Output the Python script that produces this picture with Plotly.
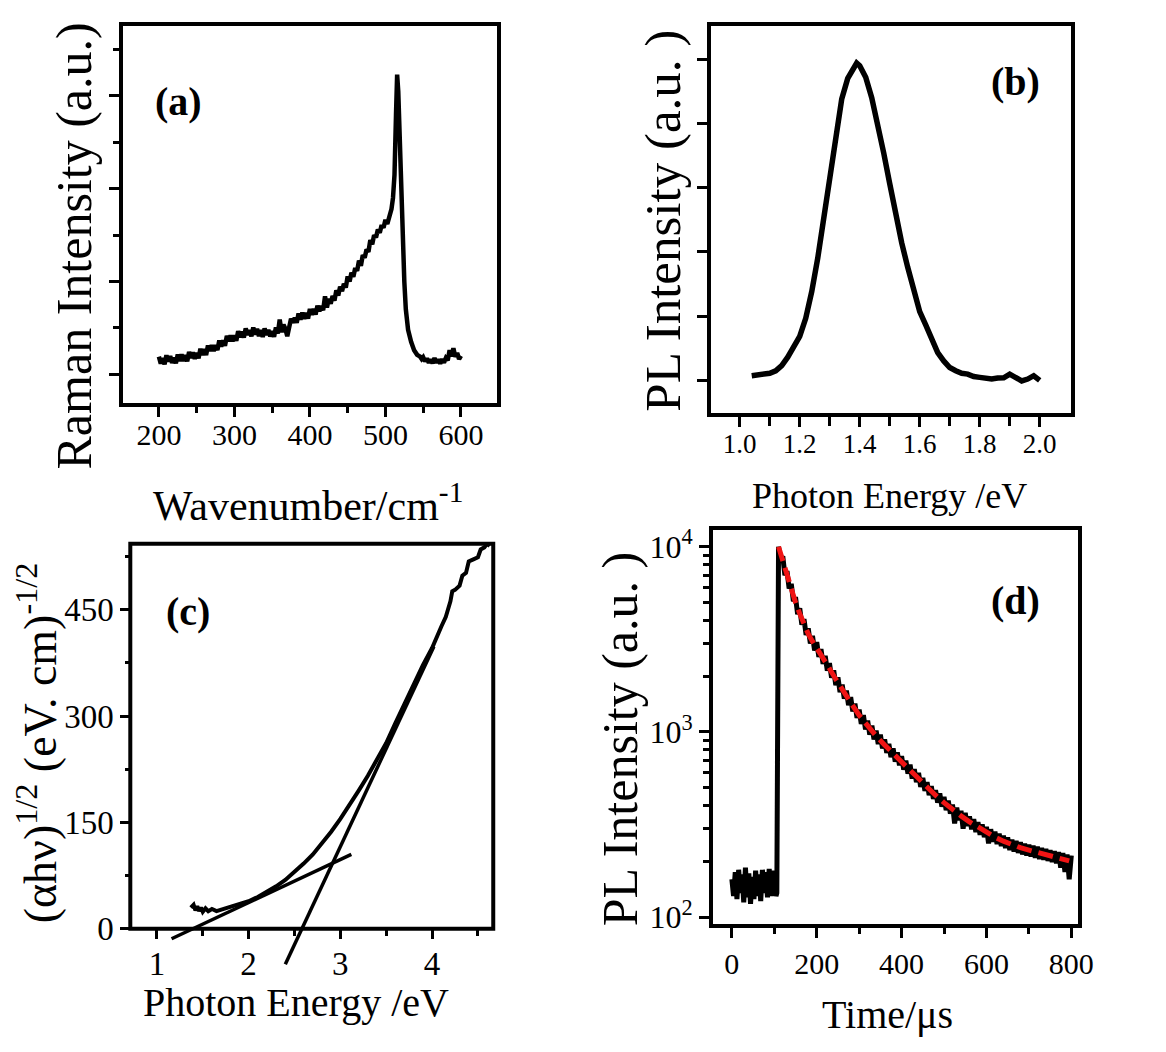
import plotly.graph_objects as go

W, H = 1166, 1052
FONT = "Liberation Serif"

# ---------------- data ----------------
# (a) Raman
raman_x = [200, 202.5, 205, 207.5, 210, 212.5, 215, 217.5, 220, 222.5,
           225, 227.5, 230, 232.5, 235, 237.5, 240, 242.5, 245, 247.5,
           250, 252.5, 255, 257.5, 260, 262.5, 265, 267.5, 270, 272.5,
           275, 277.5, 280, 282.5, 285, 287.5, 290, 292.5, 295, 297.5,
           300, 302.5, 305, 307.5, 310, 312.5, 315, 317.5, 320, 322.5,
           325, 327.5, 330, 332.5, 335, 337.5, 340, 342.5, 345, 347.5,
           350, 352.5, 355, 357.5, 360, 362.5, 365, 367.5, 370, 372.5,
           375, 377.5, 380, 382.5, 385, 387.5, 390, 392.5, 395, 397.5,
           400, 402.5, 405, 407.5, 410, 412.5, 415, 417.5, 420, 422.5,
           425, 427.5, 430, 432.5, 435, 437.5, 440, 442.5, 445, 447.5,
           450, 452.5, 455, 457.5, 460, 462.5, 465, 467.5, 470, 472.5,
           475, 477.5, 480, 482.5, 485, 487.5, 490, 492.5, 495, 497.5,
           500, 502.5, 505,
           508, 510, 512, 514, 515.5, 517, 519, 521, 523, 525, 527, 530, 534, 538, 542, 546,
           548, 550, 552.5, 555, 557.5, 560, 562.5, 565, 567.5, 570, 572.5, 575, 577.5,
           580, 582.5, 585, 587.5, 590, 592.5, 595, 597.5, 600]
raman_y = [190, 115, 175, 107, 205, 138, 195, 122, 180, 118,
           215, 142, 215, 143, 205, 140, 240, 175, 235, 168,
           230, 172, 275, 208, 270, 207, 310, 250, 315, 250,
           315, 260, 365, 300, 365, 307, 415, 355, 420, 355,
           420, 362, 465, 398, 460, 397, 495, 425, 475, 410,
           505, 428, 490, 412, 475, 403, 495, 425, 480, 408,
           465, 405, 505, 440, 590, 455, 535, 490, 410, 520,
           600, 555, 610, 555, 655, 590, 665, 598, 660, 602,
           705, 640, 705, 645, 740, 680, 735, 690, 840, 720,
           815, 760, 845, 795, 905, 850, 945, 895, 975, 935,
           1055, 1000, 1095, 1050, 1145, 1115, 1225, 1170, 1285, 1255,
           1345, 1320, 1445, 1400, 1500, 1475, 1560, 1525, 1610, 1580,
           1665, 1620, 1700,
           1780, 1900, 2150, 2800, 3230, 3050, 2500, 1900, 1400, 1000, 700, 480, 350, 260, 210, 190,
           165, 185, 140, 170, 125, 160, 120, 175, 125, 160, 115, 165, 125,
           175, 150, 260, 195, 280, 190, 230, 165, 200]

# (b) PL spectrum
pl_x = [1.04, 1.06, 1.08, 1.10, 1.12, 1.14, 1.16, 1.18, 1.20, 1.22,
        1.24, 1.26, 1.28, 1.30, 1.32, 1.34, 1.36, 1.38, 1.39, 1.40,
        1.42, 1.44, 1.46, 1.48, 1.50, 1.52, 1.54, 1.56, 1.58, 1.60,
        1.62, 1.64, 1.66, 1.68, 1.70, 1.72, 1.74, 1.76, 1.78, 1.80,
        1.82, 1.84, 1.86, 1.88, 1.90, 1.92, 1.94, 1.96, 1.98, 2.00]
pl_y = [72, 80, 87, 110, 148, 230, 360, 506, 685, 966,
        1380, 1900, 2550, 3164, 3880, 4380, 4700, 4880, 4940, 4900,
        4720, 4400, 4010, 3540, 3063, 2550, 2140, 1760, 1376, 1069,
        863, 620, 430, 302, 199, 150, 110, 97, 60, 46,
        30, 20, 35, 40, 97, 46, -10, 20, 72, 0]

# (c) Tauc plot
tauc_x = [1.37, 1.40, 1.42, 1.44, 1.46, 1.48, 1.50, 1.53, 1.56, 1.60,
          1.65, 1.70, 1.80, 1.90, 2.00, 2.10, 2.20, 2.30, 2.40, 2.50,
          2.60, 2.70, 2.80, 2.90, 3.00, 3.10, 3.20, 3.30, 3.40, 3.50,
          3.60, 3.70, 3.80, 3.90, 4.00, 4.05, 4.10, 4.15, 4.18, 4.20,
          4.22, 4.25, 4.30, 4.33, 4.37, 4.40, 4.45, 4.50, 4.53, 4.57,
          4.60, 4.63]
tauc_y = [30, 34, 26, 32, 25, 30, 24, 29, 25, 28,
          25, 27, 30, 34, 39, 45, 52, 60, 69, 80,
          92, 105, 120, 137, 155, 174, 195, 216, 238, 262,
          290, 318, 345, 372, 396, 412, 426, 440, 452, 462,
          476, 478, 484, 498, 502, 518, 521, 524, 535, 538,
          543, 540]
fit1_x = [1.16, 3.12]
fit1_y = [-14, 105]
fit2_x = [2.40, 4.02]
fit2_y = [-50, 398]

# (d) PL decay
decay_t = [0, 4, 8, 12, 16, 20, 24, 28, 32, 36, 40, 44, 48, 52, 56, 60, 64, 68, 72, 76,
           80, 84, 88, 92, 96, 100, 104, 106, 108,
           110, 115, 120, 125, 130, 135, 140, 145, 150, 155, 160, 165, 170, 175, 180, 185,
           190, 195, 200, 205, 210, 215, 220, 225, 230, 235, 240, 245, 250, 255, 260, 265,
           270, 275, 280, 285, 290, 295, 300, 305, 310, 315, 320, 325, 330, 335, 340, 345,
           350, 355, 360, 365, 370, 375, 380, 385, 390, 395, 400, 405, 410, 415, 420, 425,
           430, 435, 440, 445, 450, 455, 460, 465, 470, 475, 480, 485, 490, 495, 500, 505,
           510, 515, 520, 525, 530, 535, 540, 545, 550, 555, 560, 565, 570, 575, 580, 585,
           590, 595, 600, 605, 610, 615, 620, 625, 630, 635, 640, 645, 650, 655, 660, 665,
           670, 675, 680, 685, 690, 695, 700, 705, 710, 715, 720, 725, 730, 735, 740, 745,
           750, 755, 760, 765, 770, 775, 780, 785, 790, 795, 800]
decay_i = [160, 130, 175, 125, 180, 135, 170, 120, 185, 128, 172, 118, 165, 125, 178, 130, 170, 122, 180, 135,
           175, 128, 182, 130, 178, 140, 130, 135, 9800,
           10000, 8460, 8880, 7020, 7380, 5950, 6310, 5070, 5350, 4320, 4650, 3790, 4070, 3340, 3620, 3000,
           3300, 2750, 3050, 2540, 2800, 2330, 2570, 2140, 2350, 1960, 2150, 1790, 1970, 1640, 1800, 1510,
           1670, 1395, 1540, 1290, 1420, 1190, 1320, 1105, 1230, 1030, 1150, 965, 1080, 910, 1015, 860,
           965, 815, 910, 770, 860, 730, 815, 690, 775, 660, 740, 625, 700, 595, 665, 560,
           630, 535, 600, 505, 565, 480, 535, 455, 510, 435, 485, 415, 465, 395, 445, 378,
           425, 362, 405, 320, 390, 333, 375, 300, 365, 310, 350, 298, 338, 288, 326, 278,
           317, 270, 307, 250, 298, 255, 289, 248, 282, 242, 275, 236, 269, 230, 262, 226,
           258, 222, 254, 218, 249, 215, 246, 212, 243, 209, 240, 206, 236, 204, 233, 201,
           230, 198, 227, 195, 224, 185, 222, 175, 218, 160, 215]
fit_t = [110, 120, 130, 140, 150, 160, 170, 180, 190, 200, 215, 230, 245, 260, 280, 300,
         320, 340, 360, 380, 400, 420, 440, 460, 480, 500, 520, 540, 560, 580, 600, 620,
         640, 660, 680, 700, 720, 740, 760, 780, 795]
fit_i = [10000, 8300, 6900, 5900, 5000, 4350, 3800, 3380, 3080, 2850, 2510, 2200, 1925, 1680, 1440, 1230,
         1075, 950, 850, 760, 690, 620, 560, 500, 455, 415, 380, 352, 327, 305, 287, 270,
         257, 245, 237, 230, 224, 218, 212, 206, 201]


def fx(p):
    return p / W


def fy(p):
    return 1 - p / H


def axis(size, **kw):
    d = dict(showline=True, linecolor="black", linewidth=4, mirror=True,
             ticks="outside", tickcolor="black", tickwidth=3, ticklen=10,
             showgrid=False, zeroline=False,
             tickfont=dict(family=FONT, size=size, color="black"))
    d.update(kw)
    return d


fig = go.Figure()
fig.add_trace(go.Scatter(x=raman_x, y=raman_y, mode="lines", line=dict(color="black", width=4.5),
                         xaxis="x", yaxis="y"))
fig.add_trace(go.Scatter(x=pl_x, y=pl_y, mode="lines", line=dict(color="black", width=5.5), xaxis="x2", yaxis="y2"))
fig.add_trace(go.Scatter(x=tauc_x, y=tauc_y, mode="lines", line=dict(color="black", width=4), xaxis="x3", yaxis="y3"))
fig.add_trace(go.Scatter(x=fit1_x, y=fit1_y, mode="lines", line=dict(color="black", width=3.5), xaxis="x3", yaxis="y3"))
fig.add_trace(go.Scatter(x=fit2_x, y=fit2_y, mode="lines", line=dict(color="black", width=3.5), xaxis="x3", yaxis="y3"))
fig.add_trace(go.Scatter(x=decay_t, y=decay_i, mode="lines", line=dict(color="black", width=5), xaxis="x4", yaxis="y4"))
fig.add_trace(go.Scatter(x=fit_t, y=fit_i, mode="lines", line=dict(color="#f01414", width=5, dash="15px,7px"),
                         xaxis="x4", yaxis="y4"))

minor = dict(ticks="outside", ticklen=6, tickwidth=3, tickcolor="black")

layout = dict(
    width=W, height=H, margin=dict(l=0, r=0, t=0, b=0),
    paper_bgcolor="white", plot_bgcolor="white", showlegend=False,
    font=dict(family=FONT, color="black"),
    # (a)
    xaxis=axis(30, domain=[fx(117), fx(496)], range=[153, 648], anchor="y", ticklabelstandoff=-8,
               tickvals=[200, 300, 400, 500, 600], minor=dict(tickvals=[250, 350, 450, 550], **minor)),
    yaxis=axis(30, domain=[fy(396), fy(13)], range=[-309, 3756], anchor="x",
               tickvals=[0, 1000, 2000, 3000], showticklabels=False,
               minor=dict(tickvals=[500, 1500, 2500, 3500], **minor)),
    # (b)
    xaxis2=axis(27, domain=[fx(713), fx(1078)], range=[0.905, 2.105], anchor="y2", ticklabelstandoff=-6,
                tickvals=[1.0, 1.2, 1.4, 1.6, 1.8, 2.0], tickformat=".1f",
                minor=dict(tickvals=[1.1, 1.3, 1.5, 1.7, 1.9], ticks="outside", ticklen=9, tickwidth=3, tickcolor="black")),
    yaxis2=axis(27, domain=[fy(406), fy(13)], range=[-506, 5520], anchor="x2",
                tickvals=[0, 1000, 2000, 3000, 4000, 5000], showticklabels=False),
    # (c)
    xaxis3=axis(33, domain=[fx(124), fx(492)], range=[0.71, 4.667], anchor="free", position=fy(930),
                showline=False, ticklen=9, ticklabelstandoff=-3,
                tickvals=[1, 2, 3, 4], minor=dict(tickvals=[1.5, 2.5, 3.5, 4.5], **minor)),
    yaxis3=axis(33, domain=[fy(973.2), fy(539)], range=[-60, 543], anchor="x3", showline=False, ticklen=9,
                tickvals=[0, 150, 300, 450], minor=dict(tickvals=[75, 225, 375, 525], ticks="outside", ticklen=4,
                                                         tickwidth=3, tickcolor="black")),
    # (d)
    xaxis4=axis(30, domain=[fx(715), fx(1085)], range=[-44, 816], anchor="y4",
                tickvals=[0, 200, 400, 600, 800], minor=dict(tickvals=[100, 300, 500, 700], **minor)),
    yaxis4=axis(32, domain=[fy(925), fy(525)], type="log", range=[1.963, 4.09], anchor="x4",
                tickvals=[100, 1000, 10000],
                ticktext=["10<sup>2</sup>", "10<sup>3</sup>", "10<sup>4</sup>"],
                minor=dict(tickvals=[200, 300, 400, 500, 600, 700, 800, 900,
                                     2000, 3000, 4000, 5000, 6000, 7000, 8000, 9000], **minor)),
)
fig.update_layout(**layout)

# frame of panel (c)
fig.add_shape(type="rect", xref="paper", yref="paper", x0=fx(124), x1=fx(492), y0=fy(930), y1=fy(539),
              line=dict(color="black", width=4), fillcolor="rgba(0,0,0,0)")


def ann(text, x, y, size, angle=0, bold=False):
    if bold:
        text = "<b>" + text + "</b>"
    fig.add_annotation(text=text, x=fx(x), y=fy(y), xref="paper", yref="paper", showarrow=False,
                       xanchor="center", yanchor="middle", textangle=angle,
                       font=dict(family=FONT, size=size, color="black"))


# panel labels
ann("(a)", 173, 90, 40, bold=True)
ann("(b)", 1022, 70, 40, bold=True)
ann("(c)", 183, 608, 40, bold=True)
ann("(d)", 1022, 597, 40, bold=True)

# axis titles
ann("Raman Intensity (a.u.)", 67, 237, 50, angle=-90)
ann("Wavenumber/cm<sup>-1</sup>", 304, 497, 42)
ann("PL Intensity (a.u. )", 664, 211, 51, angle=-90)
ann("Photon Energy /eV", 894, 490, 36)
ann("(αhν)<sup>1/2</sup> (eV. cm)<sup>-1/2</sup>", 29, 741, 46, angle=-90)
ann("Photon Energy /eV", 292, 1005, 40)
ann("PL Intensity (a.u. )", 620, 737, 50, angle=-90)
ann("Time/μs", 892, 1017, 40)

fig.write_html("out.html")
